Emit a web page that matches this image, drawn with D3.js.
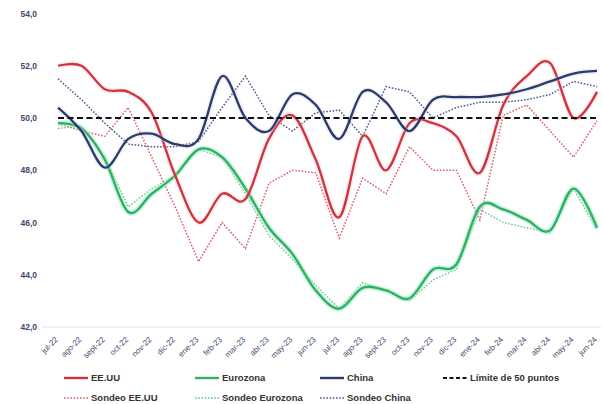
<!DOCTYPE html>
<html>
<head>
<meta charset="utf-8">
<script src="https://cdn.jsdelivr.net/npm/d3@7/dist/d3.min.js"></script>
<style>
  html, body { margin: 0; padding: 0; background: #fff; }
  svg { display: block; font-family: "Liberation Sans", Arial, sans-serif; }
</style>
</head>
<body>
<svg id="chart" width="603" height="404"></svg>
<script>
// Índices PMI manufactureros y sondeos, jul-22 a jun-24
const months = ["jul-22","ago-22","sept-22","oct-22","nov-22","dic-22","ene-23","feb-23","mar-23","abr-23","may-23","jun-23",
                "jul-23","ago-23","sept-23","oct-23","nov-23","dic-23","ene-24","feb-24","mar-24","abr-24","may-24","jun-24"];

const eeuu          = [52.0, 52.0, 51.1, 51.0, 50.2, 47.8, 46.0, 47.1, 46.9, 49.2, 50.1, 48.4, 46.2, 49.3, 48.0, 49.8, 49.8, 49.3, 47.9, 50.5, 51.6, 52.1, 50.0, 51.0];
const eurozona      = [49.8, 49.6, 48.4, 46.4, 47.1, 47.8, 48.8, 48.5, 47.3, 45.8, 44.8, 43.4, 42.7, 43.5, 43.4, 43.1, 44.2, 44.4, 46.6, 46.5, 46.1, 45.7, 47.3, 45.8];
const china         = [50.4, 49.5, 48.1, 49.2, 49.4, 49.0, 49.2, 51.6, 50.0, 49.5, 50.9, 50.5, 49.2, 51.0, 50.6, 49.5, 50.7, 50.8, 50.8, 50.9, 51.1, 51.4, 51.7, 51.8];
const sondeoEEUU    = [49.8, 49.5, 49.3, 50.4, 48.5, 46.6, 44.5, 46.0, 45.0, 47.5, 48.0, 47.9, 45.4, 47.7, 47.1, 48.9, 48.0, 48.0, 46.1, 50.1, 50.5, 49.5, 48.5, 49.9];
const sondeoEurozona= [49.6, 49.7, 48.5, 46.6, 47.3, 47.8, 48.8, 48.5, 47.1, 45.5, 44.6, 43.6, 42.7, 43.7, 43.4, 43.0, 43.8, 44.2, 46.5, 46.0, 45.8, 45.6, 47.3, 45.7];
const sondeoChina   = [51.5, 50.7, 49.8, 49.0, 48.9, 48.9, 49.1, 50.4, 51.6, 50.1, 49.5, 50.2, 50.3, 49.3, 51.2, 51.0, 50.0, 50.4, 50.6, 50.6, 50.7, 50.9, 51.4, 51.2];
const limite = 50;

const yTicks = [42, 44, 46, 48, 50, 52, 54];

const svg = d3.select("#chart");

const x = d3.scalePoint().domain(months).range([58, 597]);
const y = d3.scaleLinear().domain([42, 54]).range([327, 13.5]);

// eje horizontal (línea base)
svg.append("line")
  .attr("x1", 42).attr("x2", 601)
  .attr("y1", y(42)).attr("y2", y(42))
  .attr("stroke", "#e4e4e4").attr("stroke-width", 1);

// eje Y
const fmt = d => d3.format(".1f")(d).replace(".", ",");
const yAxis = svg.append("g")
  .attr("transform", "translate(40,0)")
  .call(d3.axisLeft(y).tickValues(yTicks).tickFormat(fmt).tickSize(0).tickPadding(3));
yAxis.select(".domain").remove();
yAxis.selectAll("text")
  .attr("fill", "#3d4a6b")
  .attr("font-size", 8.5)
  .attr("font-weight", "bold")
  .attr("font-family", "'Liberation Sans', Arial, sans-serif");

// eje X con etiquetas giradas
const xAxis = svg.append("g")
  .attr("transform", `translate(0,${y(42)})`)
  .call(d3.axisBottom(x).tickSize(0).tickPadding(0));
xAxis.select(".domain").remove();
xAxis.selectAll("text")
  .attr("fill", "#3d4a6b")
  .attr("font-size", 8)
  .attr("font-family", "'Liberation Sans', Arial, sans-serif")
  .attr("text-anchor", "end")
  .attr("dy", 0)
  .attr("transform", "translate(0,13) rotate(-45)");

const smooth = d3.line()
  .x((d, i) => x(months[i]))
  .y(d => y(d))
  .curve(d3.curveCardinal.tension(0));

const straight = d3.line()
  .x((d, i) => x(months[i]))
  .y(d => y(d));

// sondeos (punteados)
const dotted = [
  { data: sondeoEurozona, color: "#5cc48a", width: 1.3 },
  { data: sondeoEEUU,     color: "#d9606c", width: 1.5 },
  { data: sondeoChina,    color: "#4b5b8c", width: 1.5 }
];
dotted.forEach(s => {
  svg.append("path")
    .attr("d", straight(s.data))
    .attr("fill", "none")
    .attr("stroke", s.color)
    .attr("stroke-width", s.width)
    .attr("stroke-dasharray", "1.6,1.6");
});

// series reales (suavizadas; la Eurozona con halo claro)
const solids = [
  { data: eurozona, color: "#2fae66", halo: "#a8ecc6", haloOp: 0.6 },
  { data: eeuu,     color: "#cf3340", halo: "#f6c4c8", haloOp: 0.3 },
  { data: china,    color: "#2d3b6b", halo: "#c9d0e6", haloOp: 0.3 }
];
solids.forEach(s => {
  svg.append("path")
    .attr("d", smooth(s.data))
    .attr("fill", "none")
    .attr("stroke", s.halo)
    .attr("stroke-width", 5.5)
    .attr("stroke-opacity", s.haloOp)
    .attr("stroke-linejoin", "round");
  svg.append("path")
    .attr("d", smooth(s.data))
    .attr("fill", "none")
    .attr("stroke", s.color)
    .attr("stroke-width", 2.3)
    .attr("stroke-linejoin", "round");
});

// límite de 50 puntos
svg.append("line")
  .attr("x1", x(months[0])).attr("x2", x(months[months.length - 1]))
  .attr("y1", y(limite)).attr("y2", y(limite))
  .attr("stroke", "#111").attr("stroke-width", 2)
  .attr("stroke-dasharray", "6,3.5");

// leyenda
const legend = [
  { label: "EE.UU",               color: "#cf3340", dash: null,       w: 2.4, x: 64,  row: 0 },
  { label: "Eurozona",            color: "#2fae66", dash: null,       w: 2.4, x: 195, row: 0 },
  { label: "China",               color: "#2d3b6b", dash: null,       w: 2.4, x: 320, row: 0 },
  { label: "Límite de 50 puntos", color: "#111",    dash: "4,2.5",    w: 2,   x: 443, row: 0 },
  { label: "Sondeo EE.UU",        color: "#d9606c", dash: "1.6,1.6",  w: 1.5, x: 64,  row: 1 },
  { label: "Sondeo Eurozona",     color: "#5cc48a", dash: "1.6,1.6",  w: 1.5, x: 195, row: 1 },
  { label: "Sondeo China",        color: "#4b5b8c", dash: "1.6,1.6",  w: 1.5, x: 320, row: 1 }
];
const rowY = [378, 398];
const lg = svg.append("g");
legend.forEach(l => {
  const ly = rowY[l.row];
  lg.append("line")
    .attr("x1", l.x).attr("x2", l.x + 24)
    .attr("y1", ly).attr("y2", ly)
    .attr("stroke", l.color).attr("stroke-width", l.w)
    .attr("stroke-dasharray", l.dash);
  lg.append("text")
    .attr("x", l.x + 27).attr("y", ly)
    .attr("dy", "0.35em")
    .attr("font-size", 9.5)
    .attr("font-weight", "bold")
    .attr("fill", "#333")
    .text(l.label);
});
</script>
</body>
</html>
